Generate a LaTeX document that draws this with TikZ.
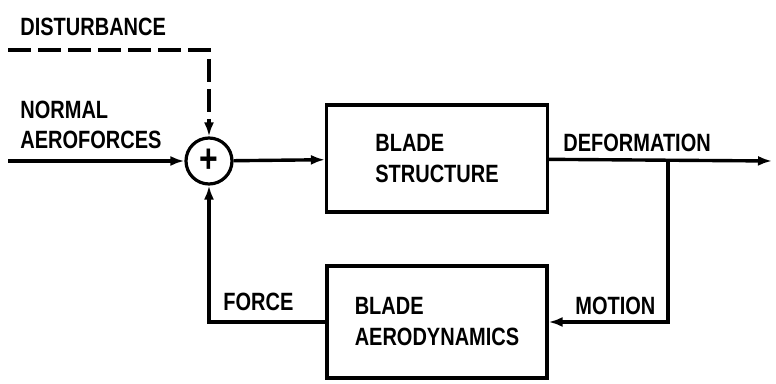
\documentclass[tikz,border=0pt]{standalone}
\usepackage{fontspec}
\setmainfont{Liberation Sans}[FakeStretch=0.8]
\usetikzlibrary{positioning, arrows.meta, calc}

\tikzset{
    blockbox/.style={draw, line width=1.6pt, align=left, inner sep=0pt, font=\bfseries\fontsize{12.5}{15.5}\selectfont},
    flow/.style={line width=1.7pt, -{Latex[length=7pt, width=5pt]}},
    lbl/.style={font=\bfseries\fontsize{12.5}{15}\selectfont, inner sep=0pt, anchor=west, align=left}
}

\begin{document}
\begin{tikzpicture}[x=0.5pt, y=-0.5pt]
    \useasboundingbox (0,0) rectangle (776,384);

    % summing junction and the two blocks
    \node[circle, draw, line width=1.6pt, minimum size=23pt, inner sep=0pt, font=\bfseries\fontsize{20}{20}\selectfont] (sum) at (209,161) {+};
    \node[blockbox, minimum width=110.5pt, minimum height=53.5pt] (struct) at (437,158.5) {BLADE\\STRUCTURE};
    \node[blockbox, minimum width=110pt, minimum height=56pt] (aero) at (437,322) {BLADE\\AERODYNAMICS};

    % free ends
    \coordinate (distin) at (8,50);
    \coordinate (normin) at (8,161);
    \coordinate (out) at (772,161);
    \coordinate (tap) at (668,161);

    % connectors
    \draw[flow, line width=2pt, dash pattern=on 11.5pt off 3.5pt] (distin) -| (sum);
    \draw[flow] (normin) -- (sum);
    \draw[flow] (sum) -- (struct);
    \draw[flow] (struct) -- (out);
    \draw[flow] (tap) |- (aero);
    \draw[flow] (aero) -| (sum);

    % labels
    \node[lbl] (disturbance) at (20,26.5) {DISTURBANCE};
    \node[lbl] (normal) at (20,125) {NORMAL\\AEROFORCES};
    \node[lbl] (deformation) at (563,143) {DEFORMATION};
    \node[lbl] (motion) at (575,306) {MOTION};
    \node[lbl] (force) at (223,302) {FORCE};
\end{tikzpicture}
\end{document}
